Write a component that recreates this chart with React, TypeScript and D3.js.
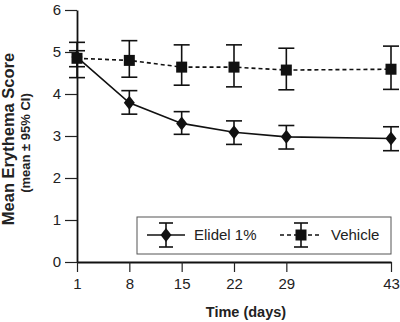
import { useEffect, useRef } from 'react';
import * as d3 from 'd3';

const days = [1, 8, 15, 22, 29, 43];
const yTicks = [0, 1, 2, 3, 4, 5, 6];

const elidelMean = [4.88, 3.79, 3.3, 3.09, 2.98, 2.94];
const elidelLow = [4.65, 3.52, 3.04, 2.8, 2.69, 2.65];
const elidelHigh = [5.03, 4.08, 3.58, 3.36, 3.25, 3.22];

const vehicleMean = [4.85, 4.8, 4.64, 4.64, 4.57, 4.59];
const vehicleLow = [4.39, 4.4, 4.21, 4.17, 4.1, 4.11];
const vehicleHigh = [5.23, 5.27, 5.17, 5.17, 5.09, 5.14];

const font = 'Liberation Sans, Arial, Helvetica, sans-serif';

export default function App() {
  const ref = useRef<SVGSVGElement>(null);

  useEffect(() => {
    const el = ref.current;
    if (!el) return;
    const svg = d3.select(el);
    svg.selectAll('*').remove();

    const width = 400;
    const height = 322;
    const margin = { top: 10, right: 9, bottom: 60, left: 77 };

    const x = d3.scaleLinear().domain([1, 43]).range([margin.left, width - margin.right]);
    const y = d3.scaleLinear().domain([0, 6]).range([height - margin.bottom, margin.top]);

    // axes
    const yAxis = svg
      .append('g')
      .attr('transform', `translate(${margin.left},0)`)
      .call(
        d3.axisLeft(y).tickValues(yTicks).tickFormat(d3.format('d')).tickSize(12).tickPadding(4).tickSizeOuter(0)
      );
    const xAxis = svg
      .append('g')
      .attr('transform', `translate(0,${height - margin.bottom})`)
      .call(
        d3.axisBottom(x).tickValues(days).tickFormat(d3.format('d')).tickSize(10).tickPadding(6).tickSizeOuter(0)
      );
    for (const g of [yAxis, xAxis]) {
      g.select('.domain').attr('stroke', '#111').attr('stroke-width', 1.8);
      g.selectAll('.tick line').attr('stroke', '#222').attr('stroke-width', 1.2);
      g.selectAll('.tick text').attr('font-family', font).attr('font-size', 15).attr('fill', '#222');
    }

    const series = [
      { name: 'Elidel 1%', mean: elidelMean, low: elidelLow, high: elidelHigh, dash: null, shape: 'diamond' },
      { name: 'Vehicle', mean: vehicleMean, low: vehicleLow, high: vehicleHigh, dash: '4,3', shape: 'square' },
    ];

    const line = d3
      .line<number>()
      .x((_d, i) => x(days[i]))
      .y((d) => y(d));

    const drawMarker = (g: any, shape: string, cx: number, cy: number) => {
      if (shape === 'diamond') {
        g.append('path')
          .attr('d', `M${cx},${cy - 7}L${cx + 5.5},${cy}L${cx},${cy + 7}L${cx - 5.5},${cy}Z`)
          .attr('fill', '#111');
      } else {
        g.append('rect')
          .attr('x', cx - 5.5)
          .attr('y', cy - 5.5)
          .attr('width', 11)
          .attr('height', 11)
          .attr('fill', '#111');
      }
    };

    const drawErr = (g: any, cx: number, y0: number, y1: number) => {
      g.append('line').attr('x1', cx).attr('x2', cx).attr('y1', y0).attr('y2', y1);
      g.append('line').attr('x1', cx - 8).attr('x2', cx + 8).attr('y1', y0).attr('y2', y0);
      g.append('line').attr('x1', cx - 8).attr('x2', cx + 8).attr('y1', y1).attr('y2', y1);
    };

    for (const s of series) {
      svg
        .append('path')
        .datum(s.mean)
        .attr('d', line)
        .attr('fill', 'none')
        .attr('stroke', '#111')
        .attr('stroke-width', 1.6)
        .attr('stroke-dasharray', s.dash);
      const eg = svg.append('g').attr('stroke', '#111').attr('stroke-width', 1.6);
      days.forEach((d, i) => drawErr(eg, x(d), y(s.low[i]), y(s.high[i])));
      const mg = svg.append('g');
      days.forEach((d, i) => drawMarker(mg, s.shape, x(d), y(s.mean[i])));
    }

    // legend
    const lg = svg.append('g');
    lg.append('rect')
      .attr('x', 137)
      .attr('y', 217)
      .attr('width', 254)
      .attr('height', 37)
      .attr('fill', '#fff')
      .attr('stroke', '#555')
      .attr('stroke-width', 1);
    const legendItems = [
      { s: series[0], x0: 147, x1: 185, cx: 166, tx: 194 },
      { s: series[1], x0: 280, x1: 322, cx: 301, tx: 331 },
    ];
    for (const it of legendItems) {
      const cy = 235;
      lg.append('line')
        .attr('x1', it.x0)
        .attr('x2', it.x1)
        .attr('y1', cy)
        .attr('y2', cy)
        .attr('stroke', '#111')
        .attr('stroke-width', 1.6)
        .attr('stroke-dasharray', it.s.dash);
      const eg = lg.append('g').attr('stroke', '#111').attr('stroke-width', 1.6);
      eg.append('line').attr('x1', it.cx).attr('x2', it.cx).attr('y1', 223).attr('y2', 247);
      eg.append('line').attr('x1', it.cx - 7).attr('x2', it.cx + 7).attr('y1', 223).attr('y2', 223);
      eg.append('line').attr('x1', it.cx - 7).attr('x2', it.cx + 7).attr('y1', 247).attr('y2', 247);
      drawMarker(lg, it.s.shape, it.cx, cy);
      lg.append('text')
        .attr('x', it.tx)
        .attr('y', cy + 5)
        .attr('font-family', font)
        .attr('font-size', 15)
        .attr('fill', '#222')
        .text(it.s.name);
    }

    // axis titles
    const midY = (margin.top + height - margin.bottom) / 2 + 3;
    svg
      .append('text')
      .attr('transform', `translate(14,${midY}) rotate(-90)`)
      .attr('text-anchor', 'middle')
      .attr('font-family', font)
      .attr('font-weight', 'bold')
      .attr('font-size', 16.5)
      .attr('fill', '#222')
      .text('Mean Erythema Score');
    svg
      .append('text')
      .attr('transform', `translate(30,${midY + 4}) rotate(-90)`)
      .attr('text-anchor', 'middle')
      .attr('font-family', font)
      .attr('font-weight', 'bold')
      .attr('font-size', 13)
      .attr('fill', '#222')
      .text('(mean ± 95% CI)');
    svg
      .append('text')
      .attr('x', 246)
      .attr('y', 317)
      .attr('text-anchor', 'middle')
      .attr('font-family', font)
      .attr('font-weight', 'bold')
      .attr('font-size', 14.5)
      .attr('fill', '#222')
      .text('Time (days)');
  }, []);

  return (
    <svg
      ref={ref}
      width={400}
      height={322}
      style={{ position: 'absolute', left: 0, top: 0, background: '#fff' }}
    />
  );
}
